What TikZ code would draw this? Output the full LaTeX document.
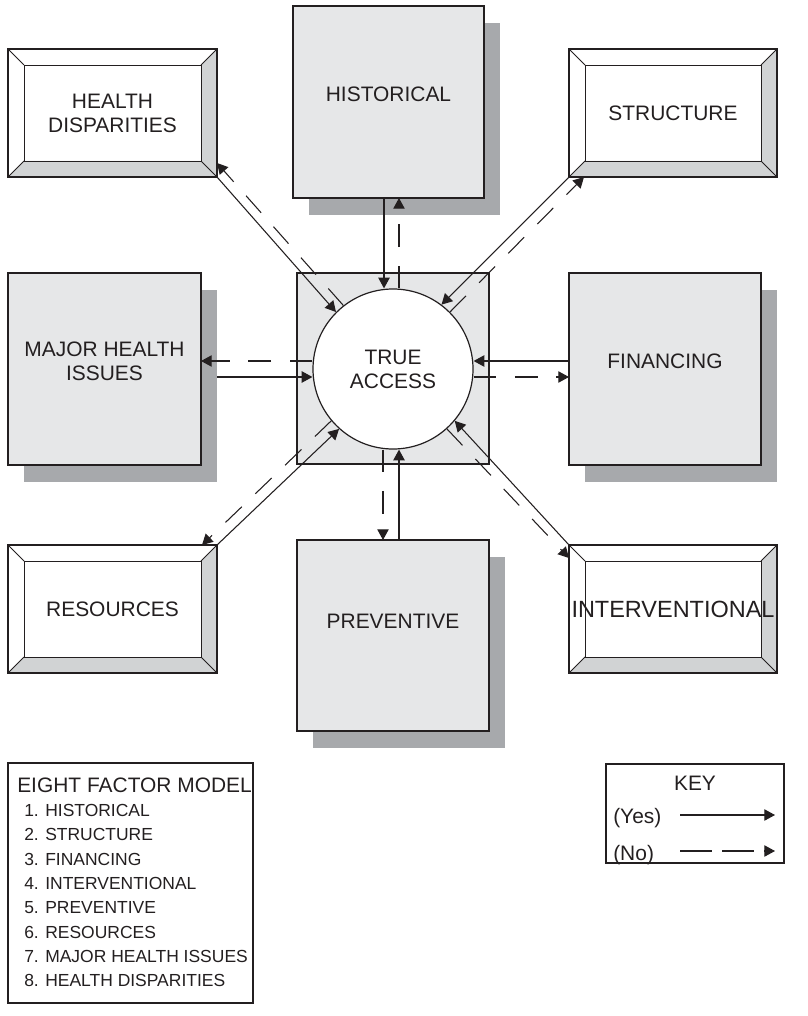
\documentclass[tikz,border=0pt]{standalone}
\usepackage{fontspec}
\setmainfont{Liberation Sans}
\usetikzlibrary{arrows.meta,calc,fit,shadows}
\definecolor{ink}{HTML}{231F20}
\definecolor{panel}{HTML}{E6E7E8}
\definecolor{shade}{HTML}{A7A9AC}
\definecolor{bevel}{HTML}{D1D3D4}

% framed white panel with a bevelled rim, drawn around an existing node
\newcommand\bevelpanel[1]{%
  \fill[white] (#1.north west) rectangle (#1.south east);
  \fill[bevel] (#1.north east) -- (#1.south east) -- ($(#1.south east)+(-16,-16)$) -- ($(#1.north east)+(-16,16)$) -- cycle;
  \fill[bevel] (#1.south west) -- (#1.south east) -- ($(#1.south east)+(-16,-16)$) -- ($(#1.south west)+(16,-16)$) -- cycle;
  \draw[ink, line width=0.7pt] ($(#1.north west)+(16,16)$) rectangle ($(#1.south east)+(-16,-16)$);
  \draw[ink, line width=0.7pt] (#1.north west) -- ++(16,16) (#1.north east) -- ++(-16,16)
        (#1.south west) -- ++(16,-16) (#1.south east) -- ++(-16,-16);
  \draw[ink, line width=0.9pt] (#1.north west) rectangle (#1.south east);
}

\begin{document}
\begin{tikzpicture}[x=0.75pt,y=-0.75pt,
  every node/.style={font=\fontsize{15.7}{18}\selectfont, text=ink},
  area/.style={inner sep=0pt, outer sep=0pt},
  frame/.style={area, draw=ink, line width=0.9pt},
  panelbox/.style={frame, fill=panel, align=center,
    general shadow={fill=shade, shadow xshift=12pt, shadow yshift=-12.5pt}},
  entry/.style={anchor=base west, inner sep=0pt},
  listentry/.style={entry, font=\fontsize{13.1}{16}\selectfont},
  yes/.style={draw=ink, line width=0.8pt, -{Triangle[length=8pt,width=8.5pt]}},
  no/.style={yes, dash pattern=on 17pt off 14pt},
  keyno/.style={yes, dash pattern=on 24pt off 7.5pt}]

\useasboundingbox (0,0) rectangle (807,1016);

% shadowed factor boxes
\node[panelbox, fit={(293,6) (484,198)}] (hi) {HISTORICAL};
\node[panelbox, fit={(8,273) (201,465)}] (mh) {MAJOR HEALTH\\ISSUES};
\node[panelbox, fit={(569,273) (761,465)}] (fi) {FINANCING};
\node[panelbox, fit={(297,540) (489,731)}] (pv) {};
\node (pv-t) at (393,621) {PREVENTIVE};

% bevelled factor boxes
\node[area, fit={(8,49) (217,177)}] (hd) {};
\bevelpanel{hd}
\node[align=center] (hd-t) at (hd) {HEALTH\\DISPARITIES};
\node[area, fit={(569,49) (777,177)}] (st) {};
\bevelpanel{st}
\node (st-t) at (st) {STRUCTURE};
\node[area, fit={(8,545) (217,673)}] (rs) {};
\bevelpanel{rs}
\node (rs-t) at (rs) {RESOURCES};
\node[area, fit={(569,545) (777,673)}] (iv) {};
\bevelpanel{iv}
\node[font=\fontsize{17.6}{18}\selectfont, inner sep=0pt] (iv-t) at (iv) {INTERVENTIONAL};

% centre
\node[frame, fill=panel, fit={(297,273) (489,464)}] (sq) {};
\node[circle, draw=ink, fill=white, line width=0.9pt, minimum size=120pt,
      inner sep=0pt, align=center] (ta) at (393,369) {TRUE\\ACCESS};

% guide lines for the straight connectors
\coordinate (vA) at (384,0);
\coordinate (vB) at (399,0);
\coordinate (vC) at (383,0);
\coordinate (hA) at (0,361);
\coordinate (hB) at (0,377);

% vertical pairs
\draw[yes] (hi.south -| vA) -- (ta.north -| vA);
\draw[no]  (ta.north -| vB) -- (hi.south -| vB);
\draw[no]  (ta.south -| vC) -- (pv.north -| vC);
\draw[yes] (pv.north -| vB) -- (ta.south -| vB);

% horizontal pairs
\draw[no]  (ta.west |- hA) -- (mh.east |- hA);
\draw[yes] ($(mh.east |- hB)+(16,0)$) -- (ta.west |- hB);
\draw[yes] (fi.west |- hA) -- (ta.east |- hA);
\draw[no]  (ta.east |- hB) -- (fi.west |- hB);

% diagonal pairs
\draw[yes] (hd.south east) -- (ta.135);
\draw[no]  (ta.128) -- ($(hd.south east)+(0,-14)$);
\draw[yes] (st.south west) -- (ta.53);
\draw[no]  (ta.45) -- ($(st.south west)+(15,0)$);
\draw[yes] (iv.north west) -- (ta.-40);
\draw[no]  (ta.-48) -- ($(iv.north west)+(0,13)$);
\draw[yes] (rs.north east) -- (ta.228);
\draw[no]  (ta.220) -- ($(rs.north east)+(-15,0)$);

% list of factors
\node[frame, fit={(8,763) (253,1003)}] (leg) {};
\node[entry] (leg-h) at (17,792.5) {EIGHT FACTOR MODEL};
\foreach \t [count=\i] in {HISTORICAL, STRUCTURE, FINANCING, INTERVENTIONAL,
    PREVENTIVE, RESOURCES, MAJOR HEALTH ISSUES, HEALTH DISPARITIES}
  \node[listentry] (leg-\i) at (24,{816.5+24.3*(\i-1)}) {\i. \t};

% key
\node[frame, fit={(606,764) (784,863)}] (key) {};
\node[anchor=base, inner sep=0pt] (key-h) at (695,790) {KEY};
\node[entry] (key-y) at (613,823) {(Yes)};
\node[entry] (key-n) at (613,860) {(No)};
\coordinate (ky1) at (680,815);
\coordinate (ky2) at (775,815);
\coordinate (kn1) at (680,851);
\coordinate (kn2) at (775,851);
\draw[yes] (ky1) -- (ky2);
\draw[keyno] (kn1) -- (kn2);
\end{tikzpicture}
\end{document}
